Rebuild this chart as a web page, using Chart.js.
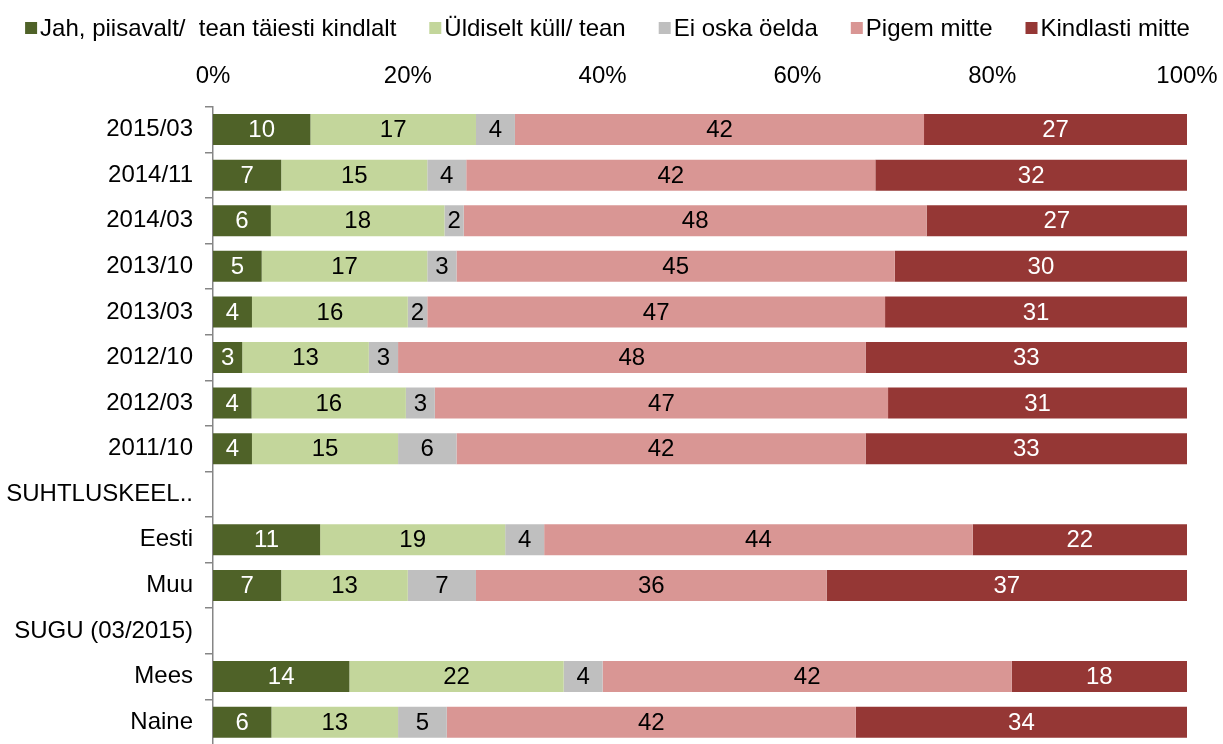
<!DOCTYPE html>
<html>
<head>
<meta charset="utf-8">
<script src="https://cdn.jsdelivr.net/npm/chart.js@4.4.1/dist/chart.umd.min.js"></script>
<style>
html,body{margin:0;padding:0;background:#fff;overflow:hidden;}
canvas{display:block;}
</style>
</head>
<body>
<canvas id="c" width="1223" height="746"></canvas>
<script>
const categories = ["2015/03","2014/11","2014/03","2013/10","2013/03","2012/10","2012/03","2011/10","SUHTLUSKEEL..","Eesti","Muu","SUGU (03/2015)","Mees","Naine"];
const seriesNames = ["Jah, piisavalt/  tean täiesti kindlalt","Üldiselt küll/ tean","Ei oska öelda","Pigem mitte","Kindlasti mitte"];
const jah      = [10, 7, 6, 5, 4, 3, 4, 4, null, 11, 7, null, 14, 6];
const uldiselt = [17,15,18,17,16,13,16,15, null, 19,13, null, 22,13];
const eiOska   = [ 4, 4, 2, 3, 2, 3, 3, 6, null,  4, 7, null,  4, 5];
const pigem    = [42,42,48,45,47,48,47,42, null, 44,36, null, 42,42];
const kindlasti= [27,32,27,30,31,33,31,33, null, 22,37, null, 18,34];
const xTicks = [0,20,40,60,80,100];

const colors = ["#4F6228","#C3D69B","#BFBFBF","#D99694","#953735"];
const labelColors = ["#FFFFFF","#000000","#000000","#000000","#FFFFFF"];
const raw = [jah, uldiselt, eiOska, pigem, kindlasti];
const totals = categories.map((_, i) => raw.reduce((s, arr) => s + (arr[i] || 0), 0));
const pct = arr => arr.map((v, i) => v == null ? null : v / totals[i] * 100);

const FONT = "'Liberation Sans', Arial, sans-serif";

const valueLabels = {
  id: 'valueLabels',
  afterDatasetsDraw(chart) {
    const ctx = chart.ctx;
    ctx.save();
    ctx.font = "24px " + FONT;
    ctx.textAlign = 'center';
    ctx.textBaseline = 'middle';
    chart.data.datasets.forEach((ds, di) => {
      const meta = chart.getDatasetMeta(di);
      meta.data.forEach((el, i) => {
        const v = raw[di][i];
        if (v == null) return;
        const p = el.getProps(['x','y','base'], true);
        ctx.fillStyle = labelColors[di];
        ctx.fillText(String(v), (p.x + p.base) / 2, p.y + 1);
      });
    });
    ctx.restore();
  }
};

// Legend drawn in the Excel style: small square, narrow gap, then text
const excelLegend = {
  id: 'excelLegend',
  afterDraw(chart) {
    const ctx = chart.ctx;
    ctx.save();
    ctx.font = "24px " + FONT;
    ctx.textBaseline = 'middle';
    ctx.textAlign = 'left';
    const box = 12, gap = 3, spacing = 33, cy = 28;
    const ds = chart.data.datasets;
    const widths = ds.map(d => box + gap + ctx.measureText(d.label).width);
    const total = widths.reduce((a, b) => a + b, 0) + spacing * (ds.length - 1);
    let x = 607.5 - total / 2;
    ds.forEach((d, i) => {
      ctx.fillStyle = d.backgroundColor;
      ctx.fillRect(x, cy - box / 2, box, box);
      ctx.fillStyle = '#000';
      ctx.fillText(d.label, x + box + gap, cy + 1);
      x += widths[i] + spacing;
    });
    ctx.restore();
  }
};

new Chart(document.getElementById('c'), {
  type: 'bar',
  data: {
    labels: categories,
    datasets: raw.map((arr, i) => ({
      label: seriesNames[i],
      data: pct(arr),
      backgroundColor: colors[i],
      borderWidth: 0,
      categoryPercentage: 1,
      barPercentage: 0.68
    }))
  },
  options: {
    indexAxis: 'y',
    responsive: false,
    animation: false,
    devicePixelRatio: 1,
    layout: { padding: { left: 0, right: 36, top: 46, bottom: 1 } },
    plugins: {
      legend: { display: false },
      tooltip: { enabled: false }
    },
    scales: {
      x: {
        position: 'top',
        stacked: true,
        min: 0, max: 100,
        afterBuildTicks: s => { s.ticks = xTicks.map(v => ({ value: v })); },
        afterFit: s => { s.paddingLeft = 0; s.paddingRight = 0; },
        grid: { display: false, drawTicks: false },
        border: { display: false },
        ticks: { color: '#000', font: { family: FONT, size: 24 }, padding: 16, callback: v => v + '%' }
      },
      y: {
        stacked: true,
        afterFit: s => { s.width = 213; s.paddingTop = 0; s.paddingBottom = 0; },
        grid: { display: true, offset: true, drawOnChartArea: false, drawTicks: true, tickLength: 8, color: '#868686', lineWidth: 1.5 },
        border: { display: true, color: '#868686', width: 1.5 },
        ticks: { color: '#000', font: { family: FONT, size: 24 }, padding: 12, autoSkip: false }
      }
    }
  },
  plugins: [valueLabels, excelLegend]
});
</script>
</body>
</html>
